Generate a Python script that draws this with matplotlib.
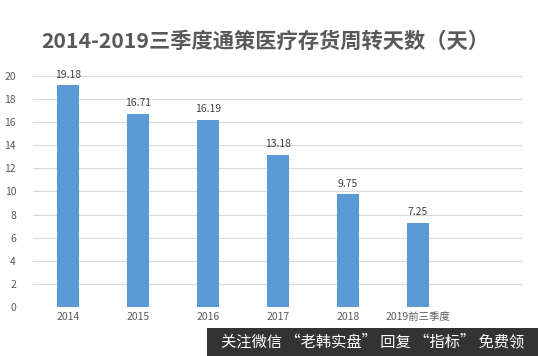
import matplotlib.pyplot as plt
from matplotlib.patches import Rectangle

plt.rcParams['font.family'] = ['Noto Sans CJK SC', 'DejaVu Sans']

categories = ['2014', '2015', '2016', '2017', '2018', '2019前三季度']
values = [19.18, 16.71, 16.19, 13.18, 9.75, 7.25]
yticks = list(range(0, 21, 2))

fig = plt.figure(figsize=(5.38, 3.56), dpi=100)
ax = fig.add_axes([0.061, 0.1376, 0.911, 0.649])

x = range(len(categories))
ax.bar(x, values, width=0.31, color='#5B9BD5', zorder=2)
for i, v in zip(x, values):
    ax.text(i, v + 0.5, f'{v:.2f}', ha='center', va='bottom', fontsize=7.5, color='#404040')

ax.set_xlim(-0.5, 6.5)
ax.set_ylim(0, 20)
ax.set_yticks(yticks)
ax.set_xticks(list(x))
ax.set_xticklabels(categories)
ax.tick_params(axis='both', length=0, labelsize=7.5, colors='#595959')
ax.tick_params(axis='y', pad=12)
ax.grid(axis='y', color='#D9D9D9', linewidth=0.8, zorder=0)
for s in ax.spines.values():
    s.set_visible(False)

fig.text(0.493, 0.885, '2014-2019三季度通策医疗存货周转天数（天）', ha='center', va='center',
         fontsize=15.3, fontweight='bold', color='#595959')

# watermark banner
fig.patches.append(Rectangle((0.385, 0.0), 0.615, 0.079, transform=fig.transFigure,
                             facecolor='#333333', edgecolor='none'))
fig.text(0.693, 0.04, '关注微信 “老韩实盘” 回复 “指标” 免费领', ha='center', va='center',
         fontsize=11, color='white')

fig.savefig('out.png', dpi=100)
